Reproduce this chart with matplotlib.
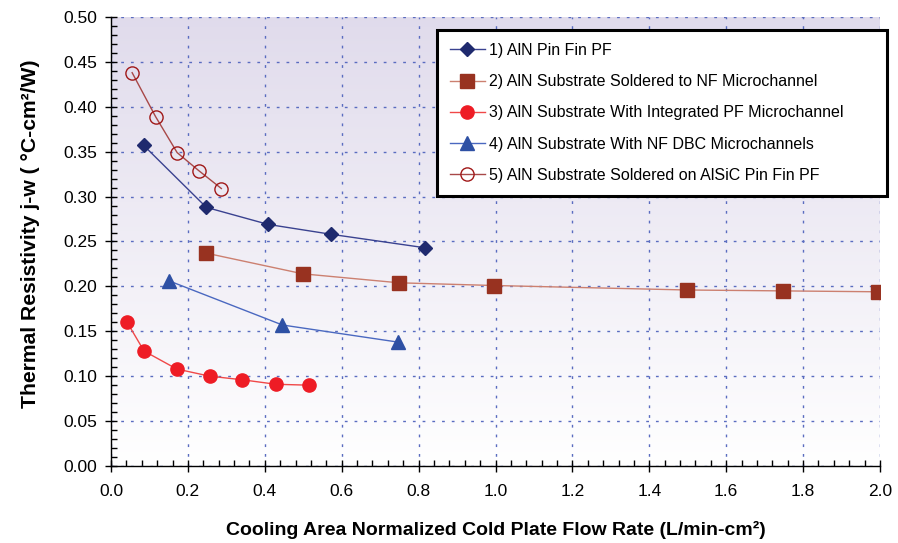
import numpy as np
import matplotlib
matplotlib.use("Agg")
import matplotlib.pyplot as plt
from matplotlib.ticker import MultipleLocator, FormatStrFormatter

plt.rcParams['font.family'] = ['Liberation Sans', 'DejaVu Sans']

# series data
x1 = [0.085, 0.248, 0.409, 0.573, 0.817]
y1 = [0.357, 0.288, 0.269, 0.258, 0.243]

x2 = [0.248, 0.499, 0.749, 0.996, 1.498, 1.747, 1.995]
y2 = [0.237, 0.214, 0.204, 0.201, 0.196, 0.195, 0.194]

x3 = [0.042, 0.086, 0.171, 0.257, 0.342, 0.429, 0.516]
y3 = [0.160, 0.128, 0.108, 0.100, 0.096, 0.091, 0.090]

x4 = [0.152, 0.446, 0.746]
y4 = [0.206, 0.157, 0.138]

x5 = [0.055, 0.116, 0.172, 0.228, 0.287]
y5 = [0.438, 0.389, 0.349, 0.329, 0.309]

labels = ["1) AlN Pin Fin PF",
          "2) AlN Substrate Soldered to NF Microchannel",
          "3) AlN Substrate With Integrated PF Microchannel",
          "4) AlN Substrate With NF DBC Microchannels",
          "5) AlN Substrate Soldered on AlSiC Pin Fin PF"]

fig = plt.figure(figsize=(8.98, 5.43), dpi=100)
ax = fig.add_axes([111/898, 1-466/543, 769/898, 449/543])

# gradient background, lavender at top to white at bottom
grad = np.linspace(0, 1, 256).reshape(-1, 1)
top = np.array([0.880, 0.860, 0.925])
bot = np.array([1.0, 1.0, 1.0])
img = top[None, None, :] * grad[:, :, None] + bot[None, None, :] * (1 - grad[:, :, None])
ax.imshow(img, extent=[0, 2.0, 0, 0.5], origin='lower', aspect='auto', zorder=0)

ax.plot(x1, y1, color='#3a4290', lw=1, marker='D', ms=7, mfc='#1f2a6e', mec='#1f2a6e', label=labels[0], zorder=3)
ax.plot(x2, y2, color='#cc8070', lw=1, marker='s', ms=9.5, mfc='#983220', mec='#983220', label=labels[1], zorder=3)
ax.plot(x3, y3, color='#f04848', lw=1, marker='o', ms=9.5, mfc='#ee1c25', mec='#ee1c25', label=labels[2], zorder=3)
ax.plot(x4, y4, color='#4a68c0', lw=1, marker='^', ms=10, mfc='#2e50a4', mec='#2e50a4', label=labels[3], zorder=3)
ax.plot(x5, y5, color='#a84848', lw=1, marker='o', ms=9.5, mfc='none', mec='#a01818', mew=1.0, label=labels[4], zorder=3)

ax.set_xlim(0, 2.0)
ax.set_ylim(0, 0.5)
ax.xaxis.set_major_locator(MultipleLocator(0.2))
ax.xaxis.set_minor_locator(MultipleLocator(0.04))
ax.yaxis.set_major_locator(MultipleLocator(0.05))
ax.yaxis.set_minor_locator(MultipleLocator(0.01))
ax.xaxis.set_major_formatter(FormatStrFormatter('%.1f'))
ax.yaxis.set_major_formatter(FormatStrFormatter('%.2f'))

ax.grid(True, which='major', color='#5a6cc0', lw=1.0, linestyle=(0, (2, 5)), zorder=1)
ax.set_axisbelow(True)

for s in ['top', 'right']:
    ax.spines[s].set_visible(False)
for s in ['left', 'bottom']:
    ax.spines[s].set_linewidth(1.0)
    ax.spines[s].set_zorder(4)

ax.tick_params(which='major', direction='inout', length=8, width=1, labelsize=12.5, pad=6)
ax.tick_params(axis='x', which='major', pad=9)
ax.tick_params(which='minor', direction='in', length=4, width=1)

ax.set_xlabel("Cooling Area Normalized Cold Plate Flow Rate (L/min-cm²)", fontsize=14, fontweight='bold', labelpad=16)
ax.set_ylabel("Thermal Resistivity j-w ( °C-cm²/W)", fontsize=15.2, fontweight='bold')
ax.yaxis.set_label_coords(-0.092, 0.517)

leg = ax.legend(loc='upper left', bbox_to_anchor=(0.424, 0.599, 0.585, 0.372), mode='expand',
                fontsize=11.5, frameon=True, fancybox=False, edgecolor='black', framealpha=1,
                borderpad=0.8, labelspacing=1.02, handlelength=2.2, handletextpad=0.25,
                borderaxespad=0)
leg.get_frame().set_linewidth(2.2)
leg.set_zorder(5)

fig.savefig('out.png', dpi=100)
